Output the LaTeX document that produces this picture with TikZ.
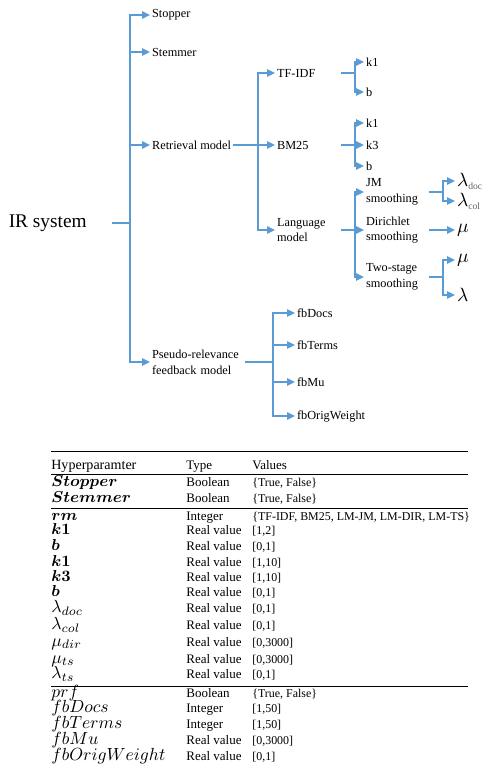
\documentclass[tikz,border=0pt]{standalone}
\usepackage{amsmath}
\usepackage{amssymb}
\usepackage{fontspec}
\setmainfont{Liberation Serif}
\usepackage{tikz}
\usetikzlibrary{arrows.meta,positioning}
\usepackage{xcolor}
\definecolor{irblue}{RGB}{91,155,213}
\tikzstyle{leaf} = [anchor=west, inner sep=1pt, align=left, font=\fontsize{7}{9}\selectfont]
\tikzstyle{param} = [anchor=west, inner sep=1pt, font=\fontsize{11}{12}\selectfont]
\tikzstyle{stem} = [line width=0.8pt, color=irblue]
\tikzstyle{link} = [stem, -{Triangle[length=4.5pt,width=4.2pt]}]
\tikzstyle{cell} = [anchor=base west, inner sep=0pt, font=\fontsize{7.4}{9}\selectfont]
\tikzstyle{val} = [cell, font=\fontsize{6.8}{9}\selectfont]
\tikzstyle{sym} = [cell, font=\fontsize{10}{12}\selectfont]
\newcommand{\bsym}[1]{{\fontsize{9.2}{11}\selectfont$\boldsymbol{#1}$}}
\newcommand{\lsub}[1]{_{\scriptscriptstyle\textcolor{black!60}{\mathrm{#1}}}}

\begin{document}
\begin{tikzpicture}[x=0.02cm, y=-0.02cm]
\useasboundingbox (0,0) rectangle (483,769);

% Root
\node[anchor=east, inner xsep=0.5cm, font=\fontsize{11}{13}\selectfont] (irsys) at (112,223) {IR system};
\coordinate (j0) at (130,223);

% First level
\node[leaf] (stopper) at (150,15) {Stopper};
\node[leaf] (stemmer) at (150,52) {Stemmer};
\node[leaf] (retr) at (150,145) {Retrieval model};
\node[leaf, text width=1.81cm] (prf) at (150,362) {Pseudo-relevance\\feedback model};

% Retrieval models
\coordinate (j1) at (258,145);
\node[leaf, text width=1.23cm] (tfidf) at (275,73) {TF-IDF};
\node[leaf, text width=1.23cm] (bm25) at (275,145) {BM25};
\node[leaf, text width=1.23cm] (lm) at (275,230) {Language\\model};

% Model parameters
\coordinate (j2) at (355,73);
\coordinate (j3) at (355,145);
\coordinate (j4) at (355,230);
\node[leaf] (tk1) at (364,62) {k1};
\node[leaf] (tb) at (364,92) {b};
\node[leaf] (bk1) at (364,123) {k1};
\node[leaf] (bk3) at (364,145) {k3};
\node[leaf] (bb) at (364,166) {b};
\node[leaf, text width=1.21cm] (jm) at (364,192) {JM\\smoothing};
\node[leaf, text width=1.21cm] (dir) at (364,230) {Dirichlet\\smoothing};
\node[leaf, text width=1.21cm] (two) at (364,277) {Two-stage\\smoothing};

% Smoothing parameters
\coordinate (j5) at (443,192);
\coordinate (j7) at (443,277);
\node[param] (ldoc) at (455,181) {$\lambda\lsub{doc}$};
\node[param] (lcol) at (455,201) {$\lambda\lsub{col}$};
\node[param] (mu1) at (455,230) {$\mu$};
\node[param] (mu2) at (455,260) {$\mu$};
\node[param] (lam) at (455,295) {$\lambda$};

% Feedback parameters
\coordinate (j8) at (273,362);
\node[leaf] (fbdocs) at (295,313) {fbDocs};
\node[leaf] (fbterms) at (295,345) {fbTerms};
\node[leaf] (fbmu) at (295,382) {fbMu};
\node[leaf] (fborig) at (295,416) {fbOrigWeight};

% Connectors
\draw[stem] (irsys.east) -- (j0);
\draw[link] (j0) |- (stopper.west);
\draw[link] (j0) |- (stemmer.west);
\draw[link] (j0) |- (retr.west);
\draw[link] (j0) |- (prf.west);
\draw[stem] (retr.east) -- (j1);
\draw[link] (j1) |- (tfidf.west);
\draw[link] (j1) |- (bm25.west);
\draw[link] (j1) |- (lm.west);
\draw[stem] (tfidf.east) -- (j2);
\draw[link] (j2) |- (tk1.west);
\draw[link] (j2) |- (tb.west);
\draw[stem] (bm25.east) -- (j3);
\draw[link] (j3) |- (bk1.west);
\draw[link] (j3) |- (bk3.west);
\draw[link] (j3) |- (bb.west);
\draw[stem] (lm.east) -- (j4);
\draw[link] (j4) |- (jm.west);
\draw[link] (j4) |- (dir.west);
\draw[link] (j4) |- (two.west);
\draw[stem] (jm.east) -- (j5);
\draw[link] (j5) |- (ldoc.west);
\draw[link] (j5) |- (lcol.west);
\draw[link] (dir.east) -- (mu1.west);
\draw[stem] (two.east) -- (j7);
\draw[link] (j7) |- (mu2.west);
\draw[link] (j7) |- (lam.west);
\draw[stem] (prf.east) -- (j8);
\draw[link] (j8) |- (fbdocs.west);
\draw[link] (j8) |- (fbterms.west);
\draw[link] (j8) |- (fbmu.west);
\draw[link] (j8) |- (fborig.west);

% Hyperparameter table
\draw[line width=1pt] (51,451.5) -- (468,451.5);
\draw[line width=0.5pt] (51,474) -- (468,474);
\draw[line width=0.5pt] (51,508) -- (468,508);
\draw[line width=0.5pt] (51,686) -- (468,686);
\node[cell, font=\fontsize{8}{9}\selectfont] (h1) at (51,469.5) {Hyperparamter};
\node[cell] (h2) at (186,469.5) {Type};
\node[cell] (h3) at (252,469.5) {Values};
\foreach \y/\p/\t/\v [count=\i] in {
  486/{\bsym{Stopper}}/Boolean/{\{True, False\}},
  502.5/{\bsym{Stemmer}}/Boolean/{\{True, False\}},
  520.5/{\bsym{rm}}/Integer/{\{TF-IDF, BM25, LM-JM, LM-DIR, LM-TS\}},
  534.5/{\bsym{k1}}/Real value/{[1,2]},
  550/{\bsym{b}}/Real value/{[0,1]},
  566/{\bsym{k1}}/Real value/{[1,10]},
  581/{\bsym{k3}}/Real value/{[1,10]},
  596/{\bsym{b}}/Real value/{[0,1]},
  612.5/{$\lambda_{doc}$}/Real value/{[0,1]},
  629.5/{$\lambda_{col}$}/Real value/{[0,1]},
  646/{$\mu_{dir}$}/Real value/{[0,3000]},
  663/{$\mu_{ts}$}/Real value/{[0,3000]},
  678.5/{$\lambda_{ts}$}/Real value/{[0,1]},
  697/{$prf$}/Boolean/{\{True, False\}},
  712.5/{$fbDocs$}/Integer/{[1,50]},
  728/{$fbTerms$}/Integer/{[1,50]},
  744.5/{$fbMu$}/Real value/{[0,3000]},
  760/{$fbOrigWeight$}/Real value/{[0,1]}}
{
  \node[sym] (p\i) at (51,\y) {\p};
  \node[cell] (t\i) at (186,\y) {\t};
  \node[val] (v\i) at (252,\y) {\v};
}
\end{tikzpicture}
\end{document}
